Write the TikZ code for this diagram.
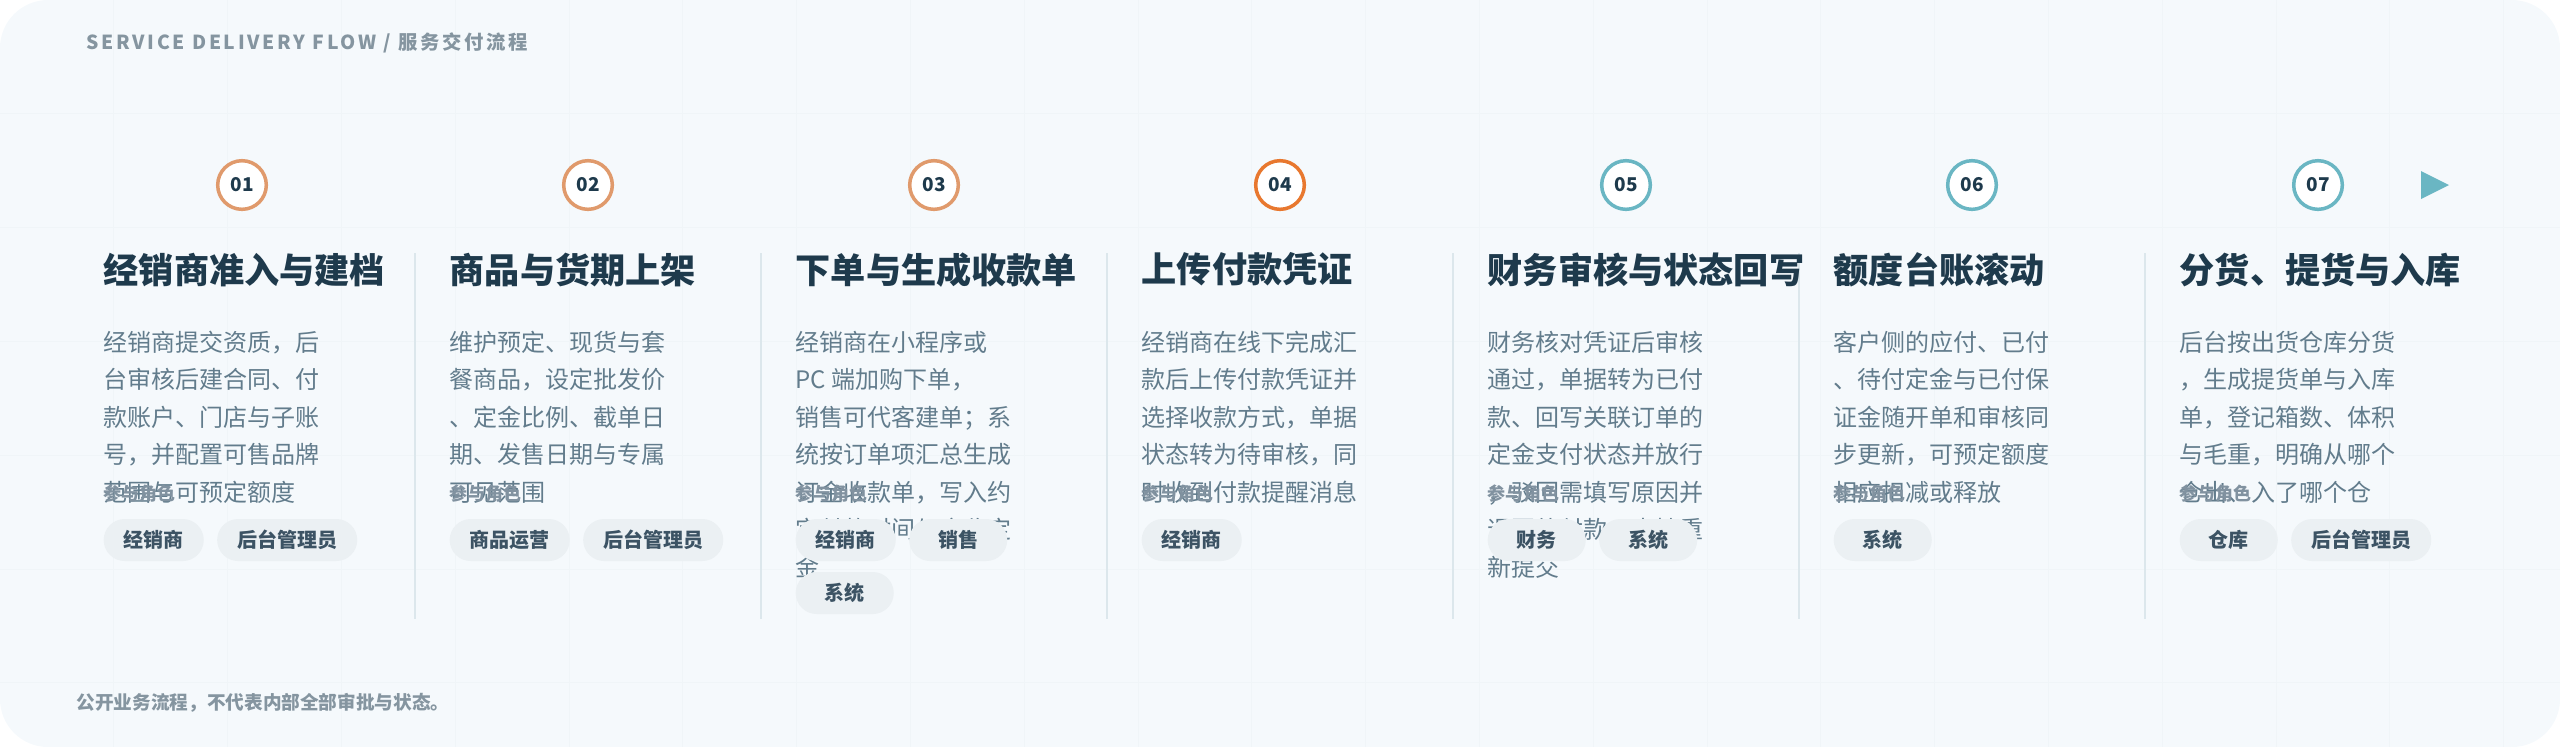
\documentclass[tikz,border=0pt]{standalone}
\usepackage{fontspec}
\setmainfont{Noto Sans CJK SC}
\usetikzlibrary{positioning}
\definecolor{bgc}{HTML}{F5F9FC}
\definecolor{gridc}{HTML}{F0F5F8}
\definecolor{sepc}{HTML}{DCE7EC}
\definecolor{ink}{HTML}{1E3A4C}
\definecolor{bodyc}{HTML}{627C8C}
\definecolor{rolec}{HTML}{8192A0}
\definecolor{chipc}{HTML}{EBF0F3}
\definecolor{chipt}{HTML}{3C5364}
\definecolor{headc}{HTML}{8595A0}
\definecolor{ringa}{HTML}{E09A6C}
\definecolor{ringb}{HTML}{E8782F}
\definecolor{ringc}{HTML}{6AB6C3}

\begin{document}
\begin{tikzpicture}[x=0.01cm,y=-0.01cm,
  ring/.style={circle,draw,line width=0.035cm,fill=white,minimum size=0.486cm,inner sep=0pt,text=ink,font=\fontsize{5.4}{6}\selectfont\bfseries},
  steptitle/.style={anchor=north west,inner sep=0pt,text=ink,font=\fontsize{10}{12}\selectfont\bfseries},
  stepbody/.style={anchor=north west,inner sep=0pt,align=left,text=bodyc,font=\fontsize{6.83}{10.67}\selectfont},
  role/.style={anchor=north west,inner sep=0pt,text=rolec,font=\fontsize{5.12}{6}\selectfont\bfseries},
  chip/.style={fill=chipc,rounded corners=0.21cm,minimum height=0.42cm,minimum width=0.98cm,inner xsep=0.2cm,inner ysep=0pt,text=chipt,font=\fontsize{5.69}{6}\selectfont\bfseries},
  sep/.style={draw=sepc,line width=0.02cm}]

\useasboundingbox (0,0) rectangle (2560,747);
\begin{scope}
  \clip[rounded corners=0.48cm] (0,0) rectangle (2560,747);
  \fill[bgc] (0,0) rectangle (2560,747);
  \foreach \g in {1,...,22}
    \draw[gridc,line width=0.01cm] (\g*113.8,0) -- (\g*113.8,747);
  \foreach \g in {1,...,6}
    \draw[gridc,line width=0.01cm] (0,\g*113.8) -- (2560,\g*113.8);
\end{scope}

\node[anchor=west,inner sep=0pt,text=headc,font=\fontsize{5.5}{6}\selectfont\bfseries\addfontfeature{LetterSpace=14}] (head) at (86,43) {SERVICE DELIVERY FLOW / 服务交付流程};

\foreach \c [count=\n] in {ringa,ringa,ringa,ringb,ringc,ringc,ringc}
  \node[ring,draw=\c] (C\n) at ({242+346*(\n-1)},185) {0\n};
\fill[ringc] (2421,171) -- (2449,185) -- (2421,199) -- cycle;

\foreach \n in {1,...,6}
  \draw[sep] ({415+346*(\n-1)},253) -- ({415+346*(\n-1)},619);

\foreach \t [count=\n] in {经销商准入与建档,商品与货期上架,下单与生成收款单,上传付款凭证,财务审核与状态回写,额度台账滚动,分货、提货与入库}
  \node[steptitle] (T\n) at ({103+346*(\n-1)},252) {\t};

\node[stepbody] (D1) at (103,330) {经销商提交资质，后\\台审核后建合同、付\\款账户、门店与子账\\号，并配置可售品牌\\范围与可预定额度};
\node[stepbody] (D2) at (449,330) {维护预定、现货与套\\餐商品，设定批发价\\、定金比例、截单日\\期、发售日期与专属\\可见范围};
\node[stepbody] (D3) at (795,330) {经销商在小程序或\\PC 端加购下单，\\销售可代客建单；系\\统按订单项汇总生成\\订金收款单，写入约\\定付款时间与应收定\\金};
\node[stepbody] (D4) at (1141,330) {经销商在线下完成汇\\款后上传付款凭证并\\选择收款方式，单据\\状态转为待审核，同\\时收到付款提醒消息};
\node[stepbody] (D5) at (1487,330) {财务核对凭证后审核\\通过，单据转为已付\\款、回写关联订单的\\定金支付状态并放行\\；驳回需填写原因并\\退回待付款，支持重\\新提交};
\node[stepbody] (D6) at (1833,330) {客户侧的应付、已付\\、待付定金与已付保\\证金随开单和审核同\\步更新，可预定额度\\相应扣减或释放};
\node[stepbody] (D7) at (2179,330) {后台按出货仓库分货\\，生成提货单与入库\\单，登记箱数、体积\\与毛重，明确从哪个\\仓出、入了哪个仓};

\foreach \n in {1,...,7}
  \node[role] (R\n) at ({103+346*(\n-1)},484) {参与角色};

\node[chip,anchor=west] (K11) at (103,540) {经销商};
\node[chip,right=0.12cm of K11] (K12) {后台管理员};
\node[chip,anchor=west] (K21) at (449,540) {商品运营};
\node[chip,right=0.12cm of K21] (K22) {后台管理员};
\node[chip,anchor=west] (K31) at (795,540) {经销商};
\node[chip,right=0.12cm of K31] (K32) {销售};
\node[chip,anchor=west] (K33) at (795,593) {系统};
\node[chip,anchor=west] (K41) at (1141,540) {经销商};
\node[chip,anchor=west] (K51) at (1487,540) {财务};
\node[chip,right=0.12cm of K51] (K52) {系统};
\node[chip,anchor=west] (K61) at (1833,540) {系统};
\node[chip,anchor=west] (K71) at (2179,540) {仓库};
\node[chip,right=0.12cm of K71] (K72) {后台管理员};

\node[anchor=west,inner sep=0pt,text=headc,font=\fontsize{5.3}{6}\selectfont\bfseries] (foot) at (76,703) {公开业务流程，不代表内部全部审批与状态。};
\end{tikzpicture}
\end{document}
